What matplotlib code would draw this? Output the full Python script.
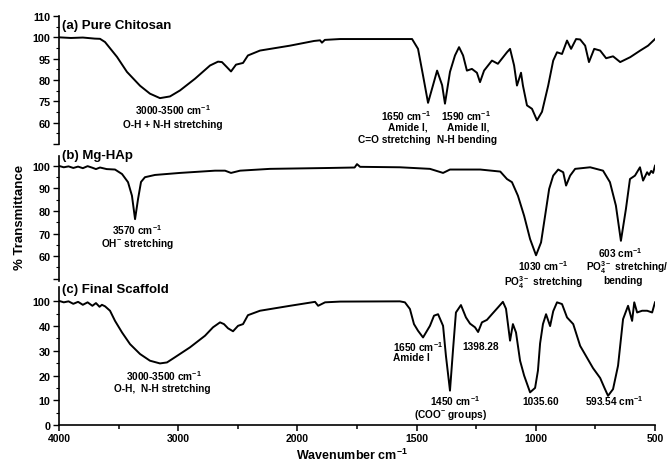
import numpy as np
import matplotlib
matplotlib.use('Agg')
import matplotlib.pyplot as plt
from matplotlib.ticker import FixedLocator, NullFormatter

plt.rcParams['font.family'] = 'Liberation Sans'
plt.rcParams['font.weight'] = 'bold'
plt.rcParams['mathtext.fontset'] = 'custom'
plt.rcParams['mathtext.rm'] = 'Liberation Sans:bold'
plt.rcParams['mathtext.it'] = 'Liberation Sans:bold'
plt.rcParams['mathtext.bf'] = 'Liberation Sans:bold'

# %% data (wavenumber cm-1, % transmittance)
# (a) pure chitosan
wn_a = [4000, 3900, 3800, 3700, 3656, 3614, 3513, 3430, 3320, 3237,
        3153, 3069, 2985, 2859, 2733, 2666, 2633, 2591, 2557, 2515,
        2456, 2415, 2314, 2062, 1930, 1905, 1897, 1885, 1821, 1519,
        1494, 1473, 1452, 1431, 1414, 1393, 1381, 1360, 1339, 1322,
        1305, 1289, 1268, 1247, 1234, 1217, 1184, 1159, 1121, 1108,
        1091, 1079, 1062, 1054, 1037, 1016, 995, 974, 948, 927,
        911, 890, 869, 852, 831, 814, 793, 777, 755, 730,
        705, 676, 646, 604, 562, 529, 500]
t_a = [100, 99.7, 99.9, 99.4, 99.3, 97.8, 90.8, 83.8, 77.3, 73.6,
       71.5, 72.3, 75.1, 80.6, 86.8, 88.6, 88.4, 86.0, 84.0, 87.2,
       88.0, 91.5, 93.8, 96.1, 98.3, 98.6, 97.5, 98.8, 99.2, 99.2,
       94.6, 82.1, 69.3, 77.6, 84.4, 77.6, 68.9, 83.8, 91.5, 95.4,
       91.5, 84.4, 85.2, 83.4, 79.0, 84.4, 89.1, 87.6, 93.0, 94.6,
       86.8, 77.4, 83.4, 77.4, 68.1, 66.5, 61.1, 65.1, 77.4, 89.1,
       93.0, 92.2, 98.5, 94.6, 99.2, 99.0, 96.1, 88.4, 94.6, 93.8,
       90.2, 91.1, 88.4, 90.7, 93.8, 96.1, 99.2]

# (b) Mg-HAp
wn_b = [4000, 3960, 3920, 3880, 3840, 3800, 3760, 3720, 3690, 3656,
        3600, 3530, 3471, 3421, 3388, 3362, 3337, 3312, 3279, 3195,
        2985, 2691, 2607, 2557, 2481, 2230, 1863, 1760, 1750, 1737,
        1570, 1444, 1389, 1360, 1233, 1149, 1121, 1100, 1075, 1049,
        1024, 999, 978, 961, 944, 927, 906, 885, 873, 856,
        835, 772, 718, 689, 664, 643, 622, 605, 584, 563,
        550, 533, 525, 516, 508, 500]
t_b = [100, 99.4, 99.8, 99.1, 99.7, 99.0, 99.9, 99.2, 98.6, 99.3,
       98.6, 98.4, 96.4, 92.8, 86.8, 76.4, 85.3, 92.9, 95.0, 96.0,
       96.9, 97.9, 97.9, 96.9, 97.9, 98.7, 99.1, 99.3, 100.8, 99.6,
       99.4, 98.7, 96.9, 98.4, 98.4, 97.5, 94.2, 92.8, 86.8, 77.9,
       67.6, 60.4, 66.1, 77.9, 89.8, 95.7, 98.4, 97.2, 91.3, 95.7,
       98.7, 99.4, 97.9, 92.8, 82.4, 66.8, 80.9, 94.2, 95.7, 99.4,
       93.5, 97.2, 96.0, 97.8, 96.9, 100.1]

# (c) final scaffold
wn_c = [4000, 3960, 3920, 3880, 3840, 3800, 3760, 3720, 3690, 3660,
        3640, 3614, 3572, 3530, 3471, 3404, 3320, 3237, 3153, 3094,
        3027, 2901, 2775, 2708, 2649, 2616, 2582, 2540, 2498, 2456,
        2415, 2314, 2062, 1926, 1913, 1884, 1821, 1570, 1549, 1528,
        1511, 1494, 1473, 1444, 1427, 1410, 1389, 1377, 1360, 1347,
        1335, 1314, 1293, 1276, 1255, 1242, 1226, 1205, 1184, 1159,
        1138, 1125, 1108, 1096, 1083, 1066, 1049, 1024, 1003, 991,
        982, 970, 957, 940, 927, 911, 890, 869, 843, 814,
        790, 760, 730, 712, 697, 676, 655, 634, 613, 596,
        587, 575, 554, 533, 512, 500]
t_c = [50.2, 49.6, 50.0, 49.0, 49.8, 48.6, 49.6, 48.2, 49.3, 47.8,
       48.6, 48.0, 46.2, 42.1, 37.4, 32.7, 28.7, 26.0, 24.9, 25.3,
       27.4, 31.4, 36.1, 39.5, 41.5, 40.8, 39.1, 37.9, 40.1, 40.8,
       44.4, 46.2, 48.2, 49.8, 48.2, 49.6, 49.9, 50.0, 49.6, 46.9,
       40.8, 38.1, 35.4, 40.1, 44.2, 44.8, 40.1, 28.0, 13.9, 30.7,
       45.5, 48.5, 43.5, 41.0, 39.5, 37.6, 41.5, 42.5, 44.8, 47.5,
       49.8, 47.0, 34.1, 40.8, 37.4, 26.0, 20.0, 13.2, 15.0, 22.0,
       33.0, 40.8, 44.8, 40.0, 46.0, 49.6, 48.9, 43.5, 40.8, 32.0,
       28.0, 23.0, 19.0, 15.0, 11.8, 14.5, 24.0, 42.8, 48.2, 42.1,
       49.6, 45.5, 46.2, 46.2, 45.5, 49.6]

# tick labels as printed on the figure (evenly spaced)
ytick_pos_a = [50, 60, 70, 80, 90, 100, 110]
ytick_lab_a = ['', '60', '75', '80', '95', '100', '110']
ytick_pos_b = [50, 60, 70, 80, 90, 100]
ytick_lab_b = ['', '60', '70', '80', '90', '100']
ytick_pos_c = [0, 10, 20, 30, 40, 50]
ytick_lab_c = ['0', '10', '20', '30', '40', '100']

xticks_major = [4000, 3000, 2000, 1500, 1000, 500]
xticks_minor = [3500, 2500, 1750, 1250, 750]


# x axis: 4000-2000 at half the scale of 2000-500
def fwd(x):
    x = np.asarray(x, dtype=float)
    return np.where(x >= 2000, x / 1000.0, x / 500.0 - 2)


def inv(y):
    y = np.asarray(y, dtype=float)
    return np.where(y >= 2, y * 1000.0, (y + 2) * 500.0)


W, H = 668, 464
fig = plt.figure(figsize=(W / 100, H / 100), dpi=100)


def px_axes(top, bottom):
    return fig.add_axes([59 / W, 1 - bottom / H, (655 - 59) / W, (bottom - top) / H])


ax_a = px_axes(17, 145)
ax_b = px_axes(157, 282)
ax_c = px_axes(288, 426)

panels = [(ax_a, wn_a, t_a, (50, 110), ytick_pos_a, ytick_lab_a),
          (ax_b, wn_b, t_b, (49, 104.4), ytick_pos_b, ytick_lab_b),
          (ax_c, wn_c, t_c, (0, 55.8), ytick_pos_c, ytick_lab_c)]

for ax, wn, t, ylim, ypos, ylab in panels:
    ax.plot(wn, t, color='black', lw=1.4)
    ax.set_xscale('function', functions=(fwd, inv))
    ax.set_xlim(4000, 500)
    ax.set_ylim(*ylim)
    ax.set_yticks(ypos)
    ax.set_yticklabels(ylab)
    ax.yaxis.set_minor_locator(FixedLocator([p + 5 for p in ypos[:-1]]))
    ax.tick_params(axis='y', which='major', length=4, width=1, pad=2, labelsize=7.8)
    ax.tick_params(axis='y', which='minor', length=2, width=0.8)
    for s in ['top', 'right']:
        ax.spines[s].set_visible(False)
    ax.spines['left'].set_linewidth(1.2)
    ax.patch.set_alpha(0)

for ax in [ax_a, ax_b]:
    ax.spines['bottom'].set_visible(False)
    ax.tick_params(axis='x', which='both', bottom=False, labelbottom=False)

ax_c.spines['bottom'].set_linewidth(1.2)
ax_c.xaxis.set_major_locator(FixedLocator(xticks_major))
ax_c.xaxis.set_minor_locator(FixedLocator(xticks_minor))
ax_c.set_xticklabels([str(v) for v in xticks_major])
ax_c.xaxis.set_minor_formatter(NullFormatter())
ax_c.tick_params(axis='x', which='major', length=4, width=1.1, pad=2, labelsize=7.5)
ax_c.tick_params(axis='x', which='minor', length=3, width=1.1)

# panel titles
fig.text(62 / W, 1 - 26 / H, '(a) Pure Chitosan', fontsize=9.5, va='center')
fig.text(62 / W, 1 - 156 / H, '(b) Mg-HAp', fontsize=9.5, va='center')
fig.text(62 / W, 1 - 290 / H, '(c) Final Scaffold', fontsize=9.5, va='center')

fs = 7.3
# (a) labels
ax_a.text(3044, 66.5, '3000-3500 cm$^{-1}$', fontsize=fs, ha='center', va='center')
ax_a.text(3044, 59.5, 'O-H + N-H stretching', fontsize=fs, ha='center', va='center')
ax_a.text(1440, 63.7, '1650 cm$^{-1}$', fontsize=fs, ha='right', va='center')
ax_a.text(1440, 58.1, 'Amide I, ', fontsize=fs, ha='right', va='center')
ax_a.text(1440, 52.5, 'C=O stretching', fontsize=fs, ha='right', va='center')
ax_a.text(1293, 63.7, '1590 cm$^{-1}$', fontsize=fs, ha='center', va='center')
ax_a.text(1285, 58.1, 'Amide II,', fontsize=fs, ha='center', va='center')
ax_a.text(1290, 52.5, 'N-H bending', fontsize=fs, ha='center', va='center')

# (b) labels
ax_b.text(3346, 72.0, '3570 cm$^{-1}$', fontsize=fs, ha='center', va='center')
ax_b.text(3346, 65.8, 'OH$^{-}$ stretching', fontsize=fs, ha='center', va='center')
ax_b.text(970, 55.9, '1030 cm$^{-1}$', fontsize=fs, ha='center', va='center')
ax_b.text(970, 48.9, 'PO$_4^{3-}$ stretching', fontsize=fs, ha='center', va='center')
ax_b.text(647, 62.0, '603 cm$^{-1}$', fontsize=fs, ha='center', va='center')
ax_b.text(617, 55.3, 'PO$_4^{3-}$ stretching/', fontsize=fs, ha='center', va='center')
ax_b.text(634, 49.4, 'bending', fontsize=fs, ha='center', va='center')

# (c) labels
ax_c.text(3119, 20.2, '3000-3500 cm$^{-1}$', fontsize=fs, ha='center', va='center')
ax_c.text(3136, 14.9, 'O-H,  N-H stretching', fontsize=fs, ha='center', va='center')
ax_c.text(1599, 31.9, '1650 cm$^{-1}$', fontsize=fs, ha='left', va='center')
ax_c.text(1599, 27.5, 'Amide I', fontsize=fs, ha='left', va='center')
ax_c.text(1230, 31.9, '1398.28', fontsize=fs, ha='center', va='center')
ax_c.text(1339, 9.9, '1450 cm$^{-1}$', fontsize=fs, ha='center', va='center')
ax_c.text(1356, 4.6, '(COO$^{-}$ groups)', fontsize=fs, ha='center', va='center')
ax_c.text(978, 9.9, '1035.60', fontsize=fs, ha='center', va='center')
ax_c.text(672, 9.9, '593.54 cm$^{-1}$', fontsize=fs, ha='center', va='center')

fig.text(20 / W, 1 - 217 / H, '% Transmittance', fontsize=9.5, rotation=90,
         ha='center', va='center')
fig.text(352 / W, 1 - 455 / H, 'Wavenumber cm$^{-1}$', fontsize=9,
         ha='center', va='center')

fig.savefig('out.png', dpi=100, facecolor='white')
